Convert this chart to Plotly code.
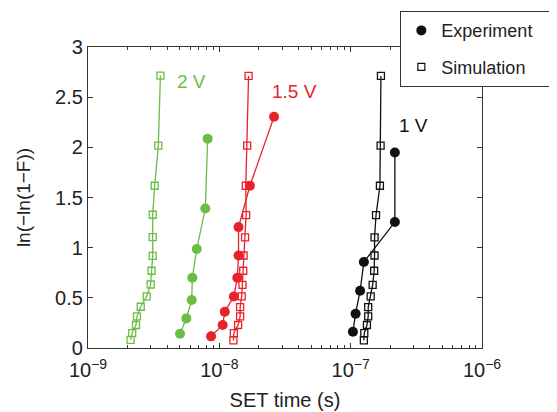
import plotly.graph_objects as go

# 2 V
sim2_t = [3.56e-9, 3.43e-9, 3.22e-9, 3.11e-9, 3.11e-9, 3.11e-9, 3.05e-9, 3.00e-9, 2.80e-9, 2.52e-9, 2.36e-9, 2.32e-9, 2.17e-9, 2.11e-9]
sim2_y = [2.715, 2.018, 1.617, 1.328, 1.106, 0.919, 0.770, 0.633, 0.514, 0.411, 0.315, 0.229, 0.149, 0.080]
exp2_t = [8.15e-9, 7.82e-9, 6.73e-9, 6.23e-9, 6.16e-9, 5.61e-9, 5.02e-9]
exp2_y = [2.085, 1.39, 0.986, 0.700, 0.478, 0.295, 0.142]

# 1.5 V
sim15_t = [1.67e-8, 1.63e-8, 1.59e-8, 1.60e-8, 1.57e-8, 1.53e-8, 1.52e-8, 1.50e-8, 1.48e-8, 1.44e-8, 1.44e-8, 1.39e-8, 1.29e-8, 1.28e-8]
sim15_y = [2.712, 2.018, 1.617, 1.325, 1.102, 0.922, 0.770, 0.630, 0.514, 0.408, 0.315, 0.229, 0.149, 0.076]
exp15_t = [2.61e-8, 1.71e-8, 1.40e-8, 1.40e-8, 1.37e-8, 1.29e-8, 1.10e-8, 1.06e-8, 8.65e-9]
exp15_y = [2.304, 1.617, 1.205, 0.922, 0.700, 0.514, 0.362, 0.229, 0.116]

# 1 V
sim1_t = [1.70e-7, 1.69e-7, 1.67e-7, 1.56e-7, 1.52e-7, 1.52e-7, 1.51e-7, 1.47e-7, 1.42e-7, 1.36e-7, 1.36e-7, 1.33e-7, 1.27e-7, 1.26e-7]
sim1_y = [2.712, 2.018, 1.617, 1.325, 1.102, 0.922, 0.770, 0.630, 0.514, 0.408, 0.315, 0.229, 0.149, 0.076]
exp1_t = [2.17e-7, 2.17e-7, 1.26e-7, 1.18e-7, 1.09e-7, 1.04e-7]
exp1_y = [1.948, 1.255, 0.857, 0.571, 0.342, 0.162]

x_tickvals = [1e-9, 1e-8, 1e-7, 1e-6]
x_ticktext = ["10<sup>\u22129</sup>", "10<sup>\u22128</sup>", "10<sup>\u22127</sup>", "10<sup>\u22126</sup>"]
x_minor_vals = [m * d for d in [1e-9, 1e-8, 1e-7] for m in range(2, 10)]
y_tickvals = [0, 0.5, 1, 1.5, 2, 2.5, 3]
y_ticktext = ["0", "0.5", "1", "1.5", "2", "2.5", "3"]

GREEN = "#6cbd45"
RED = "#e8212b"
BLACK = "#111111"
FONT = "Liberation Sans, Arial, sans-serif"

fig = go.Figure()

def add_sim(t, y, c):
    fig.add_trace(go.Scatter(x=t, y=y, mode="lines+markers", showlegend=False,
                             line=dict(color=c, width=1.3),
                             marker=dict(symbol="square-open", size=7, color=c, line=dict(width=1.3, color=c))))

def add_exp(t, y, c):
    fig.add_trace(go.Scatter(x=t, y=y, mode="lines+markers", showlegend=False,
                             line=dict(color=c, width=1.3),
                             marker=dict(symbol="circle", size=10, color=c)))

add_sim(sim2_t, sim2_y, GREEN)
add_exp(exp2_t, exp2_y, GREEN)
add_sim(sim15_t, sim15_y, RED)
add_exp(exp15_t, exp15_y, RED)
add_sim(sim1_t, sim1_y, BLACK)
add_exp(exp1_t, exp1_y, BLACK)

# legend entries
fig.add_trace(go.Scatter(x=[None], y=[None], mode="markers", name="Experiment\u00a0\u00a0\u00a0", legendgroup="a",
                         marker=dict(symbol="circle", size=10, color=BLACK)))
fig.add_trace(go.Scatter(x=[None], y=[None], mode="markers", name="Simulation", legendgroup="b",
                         marker=dict(symbol="square-open", size=7, color=BLACK, line=dict(width=1.2, color=BLACK))))

fig.add_annotation(x=-8.337, y=2.655, text="2 V", showarrow=False, xanchor="left",
                   font=dict(size=19, color=GREEN, family=FONT))
fig.add_annotation(x=-7.614, y=2.556, text="1.5 V", showarrow=False, xanchor="left",
                   font=dict(size=19, color=RED, family=FONT))
fig.add_annotation(x=-6.649, y=2.214, text="1 V", showarrow=False, xanchor="left",
                   font=dict(size=19, color=BLACK, family=FONT))

fig.update_layout(
    width=557, height=412,
    margin=dict(l=80, r=83, t=39, b=72, autoexpand=False),
    paper_bgcolor="white", plot_bgcolor="white",
    font=dict(family=FONT, size=19, color="#222"),
    showlegend=True,
    legend=dict(x=0.792, y=1.12, xanchor="left", yanchor="top",
                bordercolor="#333", borderwidth=1.3, bgcolor="white",
                font=dict(size=18, family=FONT, color="#222"),
                itemsizing="trace", tracegroupgap=10, itemwidth=30),
    xaxis=dict(type="log", range=[-9, -6], tickvals=x_tickvals, ticktext=x_ticktext,
               ticks="inside", ticklen=5, tickcolor="#333", showline=True, linecolor="#333",
               linewidth=1.3, mirror="ticks", showgrid=False, zeroline=False, automargin=False,
               ticklabelstandoff=4,
               minor=dict(tickmode="array", tickvals=x_minor_vals, ticks="inside", ticklen=3,
                          tickcolor="#333", showgrid=False),
               title=dict(text="SET time (s)", font=dict(size=20, family=FONT), standoff=12),
               tickfont=dict(size=20, family=FONT)),
    yaxis=dict(range=[0, 3], tickvals=y_tickvals, ticktext=y_ticktext,
               ticks="inside", ticklen=5, tickcolor="#333", showline=True, linecolor="#333",
               linewidth=1.3, mirror="ticks", showgrid=False, zeroline=False, automargin=False,
               title=dict(text="ln(\u2212ln(1\u2212F))", font=dict(size=19, family=FONT), standoff=19),
               tickfont=dict(size=20, family=FONT)),
)

fig.write_html("out.html")
